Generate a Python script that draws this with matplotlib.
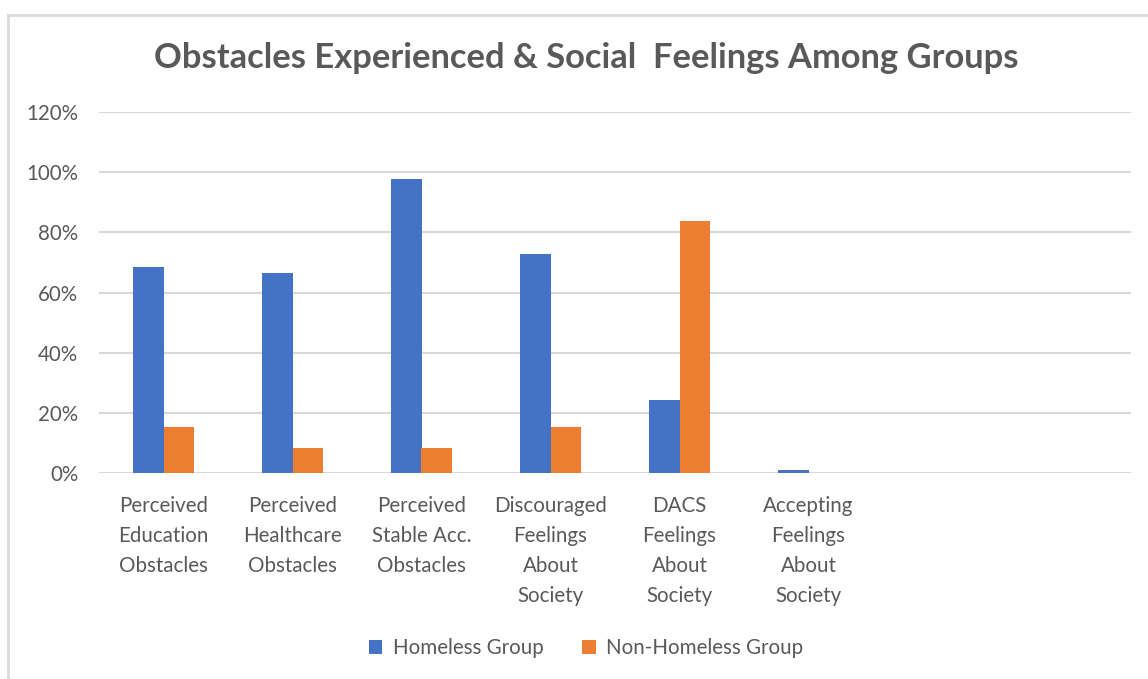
import numpy as np
import matplotlib
matplotlib.use("Agg")
import matplotlib.pyplot as plt
from matplotlib.lines import Line2D
from matplotlib.ticker import PercentFormatter

# ---- data ----
categories = [
    "Perceived\nEducation\nObstacles",
    "Perceived\nHealthcare\nObstacles",
    "Perceived\nStable Acc.\nObstacles",
    "Discouraged\nFeelings\nAbout\nSociety",
    "DACS\nFeelings\nAbout\nSociety",
    "Accepting\nFeelings\nAbout\nSociety",
    "",
    "",
]
homeless = [68.5, 66.5, 97.7, 73.0, 24.2, 1.0, np.nan, np.nan]
non_homeless = [15.5, 8.5, 8.5, 15.5, 83.8, 0.0, np.nan, np.nan]
series_names = ["Homeless Group", "Non-Homeless Group"]
title = "Obstacles Experienced & Social  Feelings Among Groups"
y_ticks = [0, 20, 40, 60, 80, 100, 120]

# ---- style ----
BLUE = "#4472C4"
ORANGE = "#ED7D31"
TEXT = "#595959"
GRID = "#D9D9D9"
FONT = "Lato"
LABEL_SIZE = 14.8

W, H = 1148, 679
fig = plt.figure(figsize=(W / 100, H / 100), dpi=100)
fig.patch.set_facecolor("white")

ax = fig.add_axes([99 / W, 1 - 473.3 / H, (1131 - 99) / W, (473.3 - 112.1) / H])

x = np.arange(len(categories))
bw = 0.2387
ax.bar(x - bw / 2, homeless, width=bw, color=BLUE, label=series_names[0], zorder=3)
ax.bar(x + bw / 2, non_homeless, width=bw, color=ORANGE, label=series_names[1], zorder=3)

ax.set_xlim(-0.5, len(categories) - 0.5)
ax.set_ylim(0, 120)
ax.set_yticks(y_ticks)
ax.yaxis.set_major_formatter(PercentFormatter(decimals=0))
ax.set_xticks(x)
ax.set_xticklabels(categories, linespacing=1.64)

ax.grid(axis="y", color=GRID, linewidth=1.5, zorder=0)
for s in ax.spines.values():
    s.set_visible(False)
ax.tick_params(axis="both", length=0, colors=TEXT, labelsize=LABEL_SIZE)
ax.tick_params(axis="y", pad=15)
ax.tick_params(axis="x", pad=16)
for lab in ax.get_xticklabels() + ax.get_yticklabels():
    lab.set_fontfamily(FONT)
    lab.set_color(TEXT)

# chart title, centred on the chart frame
fig.text(586 / W, 1 - 58 / H, title, ha="center", va="center",
         fontsize=24.8, fontweight="bold", color=TEXT, family=FONT)

# legend below the category labels
leg = fig.legend(loc="center", bbox_to_anchor=(586 / W, 1 - 648 / H), ncol=2,
                 frameon=False, handlelength=0.65, handleheight=0.65,
                 handletextpad=0.5, columnspacing=1.9,
                 prop={"family": FONT, "size": LABEL_SIZE})
for t in leg.get_texts():
    t.set_color(TEXT)

# chart frame (left and top edges)
frame_kw = dict(color=GRID, linewidth=2, transform=None)
fig.add_artist(Line2D([8, 8], [0, H - 15], **frame_kw))
fig.add_artist(Line2D([8, W], [H - 15, H - 15], **frame_kw))

fig.savefig("out.png", dpi=100, facecolor="white")
